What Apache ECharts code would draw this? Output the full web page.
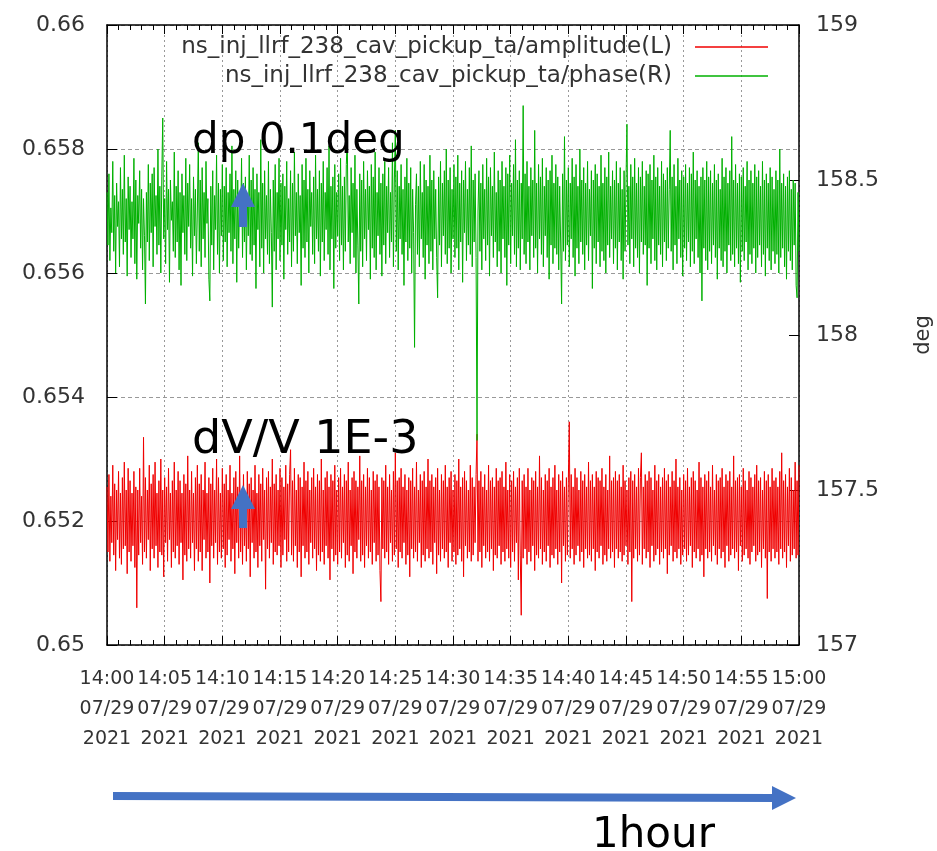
<!DOCTYPE html>
<html>
<head>
<meta charset="utf-8">
<script src="https://cdn.jsdelivr.net/npm/echarts@6/dist/echarts.min.js"></script>
<style>
  html, body { margin: 0; padding: 0; background: #fff; }
  #chart { width: 937px; height: 851px; }
</style>
</head>
<body>
<div id="chart"></div>
<script>
// 时间轴刻度 (14:00 ~ 15:00, 每5分钟)
const tickLabels = [
  '14:00\n07/29\n2021', '14:05\n07/29\n2021', '14:10\n07/29\n2021', '14:15\n07/29\n2021',
  '14:20\n07/29\n2021', '14:25\n07/29\n2021', '14:30\n07/29\n2021', '14:35\n07/29\n2021',
  '14:40\n07/29\n2021', '14:45\n07/29\n2021', '14:50\n07/29\n2021', '14:55\n07/29\n2021',
  '15:00\n07/29\n2021'
]
const seriesNames = ['ns_inj_llrf_238_cav_pickup_ta/amplitude(L)', 'ns_inj_llrf_238_cav_pickup_ta/phase(R)']
const spanSeconds = 3600 // 1小时

// amplitude (左轴), 约5秒一个点
const amplitude = [
  0.65255,0.65150,0.65275,0.65135,0.65240,0.65165,0.65290,0.65145,0.65260,0.65120,0.65250,0.65170,0.65280,0.65140,0.65245,0.65130,0.65270,0.65155,0.65295,0.65160,0.65250,0.65115,0.65285,0.65150,
  0.65265,0.65135,0.65245,0.65160,0.65280,0.65125,0.65255,0.65060,0.65250,0.65145,0.65285,0.65165,0.65240,0.65130,0.65335,0.65150,0.65270,0.65140,0.65250,0.65170,0.65290,0.65120,0.65260,0.65155,
  0.65275,0.65140,0.65295,0.65160,0.65245,0.65125,0.65265,0.65150,0.65300,0.65145,0.65250,0.65110,0.65270,0.65165,0.65255,0.65135,0.65285,0.65170,0.65245,0.65125,0.65265,0.65150,0.65295,0.65140,
  0.65250,0.65160,0.65280,0.65130,0.65265,0.65165,0.65245,0.65105,0.65275,0.65145,0.65260,0.65135,0.65305,0.65155,0.65250,0.65140,0.65280,0.65165,0.65245,0.65120,0.65270,0.65155,0.65290,0.65135,
  0.65260,0.65150,0.65275,0.65120,0.65250,0.65170,0.65295,0.65140,0.65245,0.65150,0.65270,0.65100,0.65260,0.65160,0.65285,0.65140,0.65250,0.65165,0.65300,0.65130,0.65270,0.65150,0.65245,0.65140,
  0.65285,0.65155,0.65260,0.65125,0.65275,0.65145,0.65250,0.65170,0.65290,0.65135,0.65245,0.65155,0.65270,0.65115,0.65280,0.65165,0.65255,0.65140,0.65305,0.65150,0.65250,0.65130,0.65275,0.65160,
  0.65245,0.65135,0.65280,0.65155,0.65260,0.65110,0.65270,0.65165,0.65250,0.65140,0.65290,0.65150,0.65245,0.65125,0.65275,0.65160,0.65260,0.65135,0.65285,0.65170,0.65250,0.65090,0.65270,0.65155,
  0.65280,0.65140,0.65255,0.65165,0.65300,0.65130,0.65260,0.65150,0.65275,0.65145,0.65250,0.65160,0.65285,0.65125,0.65270,0.65145,0.65255,0.65170,0.65290,0.65135,0.65260,0.65150,0.65275,0.65315,
  0.65145,0.65265,0.65135,0.65285,0.65160,0.65250,0.65125,0.65275,0.65150,0.65270,0.65110,0.65255,0.65160,0.65295,0.65140,0.65265,0.65150,0.65280,0.65130,0.65250,0.65165,0.65270,0.65140,0.65285,
  0.65155,0.65255,0.65120,0.65275,0.65145,0.65265,0.65135,0.65300,0.65150,0.65250,0.65130,0.65270,0.65160,0.65280,0.65140,0.65255,0.65105,0.65275,0.65155,0.65265,0.65135,0.65290,0.65145,0.65250,
  0.65130,0.65270,0.65150,0.65285,0.65140,0.65255,0.65165,0.65275,0.65125,0.65265,0.65145,0.65295,0.65135,0.65250,0.65160,0.65270,0.65115,0.65280,0.65150,0.65265,0.65140,0.65255,0.65170,0.65305,
  0.65135,0.65265,0.65145,0.65275,0.65125,0.65255,0.65160,0.65285,0.65140,0.65270,0.65150,0.65250,0.65130,0.65280,0.65165,0.65265,0.65135,0.65275,0.65145,0.65255,0.65120,0.65070,0.65270,0.65155,
  0.65265,0.65140,0.65290,0.65150,0.65255,0.65130,0.65275,0.65165,0.65250,0.65135,0.65280,0.65145,0.65310,0.65155,0.65265,0.65125,0.65270,0.65150,0.65285,0.65140,0.65255,0.65165,0.65275,0.65130,
  0.65250,0.65145,0.65270,0.65110,0.65265,0.65155,0.65285,0.65140,0.65255,0.65150,0.65295,0.65135,0.65250,0.65165,0.65275,0.65125,0.65265,0.65145,0.65280,0.65135,0.65255,0.65155,0.65300,0.65140,
  0.65265,0.65150,0.65275,0.65130,0.65255,0.65165,0.65270,0.65115,0.65285,0.65145,0.65250,0.65135,0.65275,0.65155,0.65265,0.65140,0.65290,0.65150,0.65255,0.65125,0.65270,0.65165,0.65280,0.65135,
  0.65250,0.65150,0.65275,0.65130,0.65265,0.65145,0.65300,0.65155,0.65255,0.65135,0.65270,0.65110,0.65280,0.65160,0.65265,0.65140,0.65250,0.65150,0.65290,0.65135,0.65270,0.65145,0.65255,0.65165,
  0.65275,0.65340,0.65135,0.65265,0.65150,0.65280,0.65125,0.65255,0.65160,0.65275,0.65140,0.65250,0.65150,0.65290,0.65135,0.65265,0.65155,0.65270,0.65120,0.65255,0.65145,0.65285,0.65140,0.65265,
  0.65160,0.65270,0.65130,0.65280,0.65150,0.65255,0.65135,0.65295,0.65155,0.65250,0.65140,0.65275,0.65125,0.65265,0.65150,0.65280,0.65135,0.65255,0.65165,0.65270,0.65105,0.65285,0.65145,0.65048,
  0.65265,0.65140,0.65275,0.65155,0.65255,0.65130,0.65285,0.65150,0.65250,0.65135,0.65270,0.65160,0.65265,0.65120,0.65280,0.65145,0.65255,0.65140,0.65305,0.65155,0.65270,0.65130,0.65250,0.65150,
  0.65275,0.65135,0.65265,0.65160,0.65285,0.65125,0.65255,0.65145,0.65270,0.65140,0.65290,0.65155,0.65250,0.65130,0.65275,0.65150,0.65265,0.65100,0.65280,0.65160,0.65255,0.65135,0.65270,0.65145,
  0.65265,0.65360,0.65140,0.65275,0.65155,0.65255,0.65130,0.65285,0.65145,0.65270,0.65160,0.65250,0.65135,0.65280,0.65150,0.65265,0.65125,0.65275,0.65155,0.65255,0.65140,0.65295,0.65145,0.65265,
  0.65135,0.65275,0.65155,0.65255,0.65120,0.65280,0.65150,0.65270,0.65140,0.65265,0.65160,0.65285,0.65130,0.65255,0.65145,0.65275,0.65135,0.65250,0.65155,0.65305,0.65140,0.65265,0.65150,0.65270,
  0.65125,0.65280,0.65155,0.65265,0.65140,0.65275,0.65150,0.65255,0.65135,0.65290,0.65145,0.65265,0.65160,0.65250,0.65130,0.65270,0.65150,0.65280,0.65070,0.65265,0.65140,0.65275,0.65155,0.65255,
  0.65135,0.65285,0.65145,0.65270,0.65310,0.65130,0.65255,0.65155,0.65275,0.65140,0.65265,0.65150,0.65280,0.65125,0.65270,0.65160,0.65250,0.65135,0.65290,0.65145,0.65265,0.65155,0.65275,0.65130,
  0.65255,0.65150,0.65270,0.65140,0.65285,0.65155,0.65265,0.65115,0.65275,0.65145,0.65255,0.65160,0.65280,0.65135,0.65265,0.65150,0.65300,0.65140,0.65255,0.65155,0.65270,0.65130,0.65250,0.65145,
  0.65275,0.65155,0.65265,0.65135,0.65285,0.65145,0.65255,0.65160,0.65270,0.65125,0.65280,0.65150,0.65265,0.65140,0.65250,0.65155,0.65295,0.65135,0.65270,0.65145,0.65255,0.65110,0.65275,0.65155,
  0.65265,0.65140,0.65280,0.65150,0.65255,0.65135,0.65290,0.65160,0.65250,0.65145,0.65275,0.65130,0.65265,0.65155,0.65270,0.65140,0.65285,0.65150,0.65255,0.65125,0.65275,0.65160,0.65265,0.65135,
  0.65280,0.65145,0.65255,0.65155,0.65305,0.65140,0.65265,0.65150,0.65270,0.65120,0.65275,0.65160,0.65255,0.65135,0.65285,0.65145,0.65265,0.65155,0.65250,0.65140,0.65280,0.65130,0.65270,0.65150,
  0.65255,0.65160,0.65275,0.65135,0.65290,0.65145,0.65265,0.65150,0.65270,0.65125,0.65250,0.65155,0.65280,0.65140,0.65265,0.65075,0.65275,0.65150,0.65255,0.65135,0.65285,0.65155,0.65265,0.65140,
  0.65270,0.65150,0.65255,0.65130,0.65280,0.65155,0.65310,0.65140,0.65265,0.65150,0.65275,0.65125,0.65255,0.65160,0.65285,0.65135,0.65270,0.65145,0.65250,0.65155,0.65295,0.65140,0.65265,0.65145,
  0.65290
]

// phase (右轴, deg)
const phase = [
  158.46,158.29,158.52,158.24,158.41,158.33,158.56,158.27,158.45,158.20,158.49,158.35,158.43,158.22,158.54,158.31,158.47,158.26,158.58,158.30,158.44,158.19,158.51,158.34,
  158.48,158.25,158.43,158.31,158.57,158.23,158.50,158.18,158.45,158.36,158.53,158.28,158.47,158.21,158.44,158.32,158.10,158.46,158.30,158.55,158.24,158.49,158.33,158.52,
  158.22,158.54,158.35,158.45,158.26,158.60,158.29,158.48,158.20,158.51,158.70,158.31,158.44,158.23,158.56,158.34,158.47,158.17,158.50,158.37,158.43,158.27,158.59,158.25,
  158.48,158.30,158.53,158.21,158.46,158.16,158.52,158.33,158.45,158.26,158.57,158.24,158.49,158.35,158.55,158.28,158.44,158.19,158.51,158.32,158.47,158.23,158.40,158.62,
  158.27,158.50,158.22,158.54,158.31,158.46,158.25,158.56,158.36,158.44,158.18,158.11,158.48,158.29,158.53,158.21,158.45,158.34,158.58,158.26,158.49,158.20,158.47,158.32,
  158.55,158.24,158.48,158.30,158.54,158.22,158.46,158.33,158.52,158.27,158.61,158.23,158.47,158.31,158.53,158.17,158.50,158.28,158.44,158.35,158.57,158.25,158.49,158.30,
  158.51,158.21,158.45,158.32,158.58,158.26,158.50,158.24,158.54,158.29,158.47,158.15,158.52,158.34,158.46,158.22,158.63,158.28,158.49,158.20,158.53,158.31,158.45,158.26,
  158.56,158.23,158.47,158.33,158.09,158.50,158.27,158.55,158.21,158.46,158.31,158.57,158.24,158.49,158.29,158.52,158.18,158.48,158.34,158.56,158.26,158.44,158.30,158.53,
  158.22,158.49,158.27,158.59,158.32,158.46,158.23,158.52,158.33,158.45,158.16,158.55,158.28,158.50,158.25,158.57,158.30,158.47,158.20,158.53,158.35,158.46,158.26,158.51,
  158.23,158.58,158.31,158.47,158.27,158.53,158.19,158.49,158.30,158.56,158.24,158.46,158.34,158.54,158.26,158.61,158.21,158.48,158.31,158.51,158.15,158.55,158.28,158.46,
  158.32,158.52,158.24,158.57,158.29,158.48,158.21,158.51,158.27,158.55,158.64,158.30,158.45,158.23,158.54,158.33,158.49,158.25,158.58,158.20,158.47,158.29,158.10,158.52,
  158.27,158.50,158.22,158.56,158.31,158.47,158.24,158.53,158.34,158.48,158.18,158.55,158.28,158.51,158.25,158.59,158.21,158.46,158.32,158.54,158.26,158.49,158.19,158.52,
  158.29,158.56,158.23,158.48,158.33,158.54,158.25,158.46,158.30,158.62,158.22,158.50,158.66,158.27,158.53,158.21,158.48,158.31,158.55,158.26,158.47,158.16,158.51,158.30,
  158.57,158.24,158.49,158.28,158.54,158.20,158.47,158.33,157.96,158.42,158.52,158.26,158.48,158.22,158.56,158.31,158.46,158.25,158.55,158.18,158.50,158.29,158.48,158.23,
  158.58,158.27,158.50,158.21,158.53,158.31,158.47,158.25,158.12,158.51,158.29,158.56,158.22,158.49,158.32,158.53,158.26,158.60,158.23,158.50,158.28,158.54,158.20,158.47,
  158.31,158.55,158.25,158.51,158.28,158.58,158.21,158.49,158.30,158.53,158.17,158.50,158.33,158.56,158.24,158.47,158.29,158.54,158.26,158.61,158.22,158.50,158.30,158.52,
  158.25,157.66,158.40,158.53,158.27,158.49,158.21,158.55,158.31,158.47,158.24,158.57,158.29,158.51,158.19,158.54,158.32,158.48,158.25,158.59,158.30,158.46,158.22,158.53,
  158.27,158.50,158.20,158.56,158.31,158.48,158.25,158.54,158.16,158.52,158.29,158.58,158.23,158.49,158.32,158.55,158.26,158.63,158.22,158.50,158.28,158.53,158.21,158.49,
  158.31,158.74,158.26,158.52,158.23,158.56,158.30,158.48,158.21,158.54,158.32,158.50,158.25,158.66,158.28,158.49,158.20,158.55,158.31,158.51,158.26,158.57,158.22,158.48,
  158.32,158.54,158.25,158.50,158.18,158.53,158.29,158.58,158.23,158.49,158.28,158.55,158.26,158.51,158.21,158.48,158.30,158.10,158.52,158.27,158.64,158.24,158.50,158.29,
  158.54,158.22,158.49,158.31,158.57,158.25,158.51,158.19,158.55,158.28,158.48,158.23,158.60,158.30,158.50,158.26,158.54,158.21,158.49,158.29,158.56,158.24,158.47,158.32,
  158.53,158.15,158.50,158.28,158.55,158.23,158.52,158.30,158.48,158.22,158.58,158.27,158.49,158.24,158.54,158.20,158.51,158.29,158.59,158.25,158.48,158.31,158.53,158.23,
  158.50,158.28,158.56,158.21,158.49,158.30,158.54,158.24,158.47,158.18,158.53,158.27,158.50,158.68,158.29,158.48,158.23,158.55,158.31,158.51,158.22,158.57,158.28,158.49,
  158.25,158.54,158.20,158.51,158.30,158.56,158.26,158.48,158.29,158.53,158.16,158.52,158.28,158.55,158.23,158.50,158.31,158.58,158.24,158.51,158.21,158.54,158.29,158.48,
  158.26,158.56,158.22,158.52,158.30,158.50,158.24,158.54,158.28,158.47,158.66,158.27,158.51,158.21,158.55,158.29,158.48,158.23,158.57,158.31,158.50,158.25,158.53,158.19,
  158.51,158.28,158.55,158.24,158.49,158.30,158.54,158.22,158.52,158.27,158.59,158.23,158.50,158.31,158.53,158.25,158.48,158.20,158.51,158.11,158.54,158.28,158.50,158.24,
  158.56,158.21,158.51,158.27,158.53,158.23,158.49,158.29,158.55,158.25,158.50,158.18,158.52,158.28,158.47,158.24,158.57,158.22,158.51,158.27,158.54,158.20,158.49,158.29,
  158.53,158.24,158.64,158.26,158.50,158.22,158.55,158.28,158.49,158.23,158.52,158.17,158.51,158.27,158.54,158.24,158.48,158.30,158.56,158.21,158.50,158.26,158.53,158.23,
  158.49,158.28,158.55,158.20,158.51,158.25,158.53,158.29,158.48,158.22,158.56,158.26,158.50,158.19,158.52,158.28,158.49,158.24,158.54,158.21,158.51,158.27,158.47,158.23,
  158.53,158.26,158.50,158.20,158.60,158.25,158.49,158.28,158.52,158.22,158.48,158.18,158.51,158.27,158.53,158.24,158.47,158.21,158.50,158.29,158.49,158.16,158.12,158.46,
  158.27
]

// 采样点均匀分布在1小时内
let toPairs = arr => arr.map((v, i) => [i * spanSeconds / (arr.length - 1), v])

let axisFont = 'DejaVu Sans'
let blue = '#4472c4'

let option = {
  animation: false,
  backgroundColor: '#fff',
  grid: { left: 107, right: 138, top: 25, bottom: 206, outerBoundsMode: 'none' },
  legend: {
    orient: 'vertical',
    right: 164,
    top: 30,
    align: 'right',
    icon: 'rect',
    itemWidth: 73,
    itemHeight: 1.5,
    itemGap: 5,
    textStyle: { fontFamily: axisFont, fontSize: 23, color: '#333', padding: [0, 18, 0, 0], lineHeight: 24 },
    data: seriesNames
  },
  xAxis: [{
    type: 'value',
    min: 0,
    max: spanSeconds,
    interval: 300,
    axisLine: { onZero: false, lineStyle: { color: '#000', width: 1.5 } },
    axisTick: { inside: true, length: 9, lineStyle: { color: '#000' } },
    minorTick: { show: true, splitNumber: 5, length: 5, lineStyle: { color: '#000' } },
    splitLine: { show: true, lineStyle: { color: '#999', type: [2, 3], width: 1 } },
    axisLabel: {
      showMinLabel: true,
      showMaxLabel: true,
      hideOverlap: false,
      margin: 19,
      fontFamily: axisFont,
      fontSize: 19,
      lineHeight: 30,
      color: '#333',
      formatter: v => tickLabels[Math.round(v / 300)]
    }
  }, {
    // 上边框刻度
    type: 'value',
    position: 'top',
    min: 0,
    max: spanSeconds,
    interval: 300,
    axisLine: { show: true, onZero: false, lineStyle: { color: '#000', width: 1.5 } },
    axisTick: { inside: true, length: 9, lineStyle: { color: '#000' } },
    minorTick: { show: true, splitNumber: 5, length: 5, lineStyle: { color: '#000' } },
    splitLine: { show: false },
    axisLabel: { show: false }
  }],
  yAxis: [{
    type: 'value',
    position: 'left',
    min: 0.65,
    max: 0.66,
    interval: 0.002,
    axisLine: { show: true, onZero: false, lineStyle: { color: '#000', width: 1.5 } },
    axisTick: { show: true, inside: true, length: 10, lineStyle: { color: '#000' } },
    splitLine: { show: true, lineStyle: { color: '#999', type: [4, 3], width: 1 } },
    axisLabel: { margin: 22, fontFamily: axisFont, fontSize: 22, color: '#333' }
  }, {
    type: 'value',
    position: 'right',
    min: 157,
    max: 159,
    interval: 0.5,
    name: 'deg',
    nameLocation: 'middle',
    nameRotate: 90,
    nameGap: 114,
    nameTextStyle: { fontFamily: axisFont, fontSize: 21, color: '#333' },
    axisLine: { show: true, onZero: false, lineStyle: { color: '#000', width: 1.5 } },
    axisTick: { show: true, inside: true, length: 10, lineStyle: { color: '#000' } },
    splitLine: { show: false },
    axisLabel: { margin: 17, fontFamily: axisFont, fontSize: 22, color: '#333' }
  }],
  series: [{
    name: seriesNames[0],
    type: 'line',
    xAxisIndex: 0,
    yAxisIndex: 0,
    showSymbol: false,
    sampling: 'none',
    color: '#f00000',
    lineStyle: { width: 1 },
    data: toPairs(amplitude)
  }, {
    name: seriesNames[1],
    type: 'line',
    xAxisIndex: 0,
    yAxisIndex: 1,
    showSymbol: false,
    sampling: 'none',
    color: '#00b000',
    lineStyle: { width: 1 },
    data: toPairs(phase)
  }],
  // 标注文字和箭头
  graphic: [
    { type: 'text', left: 192, top: 121, z: 100,
      style: { text: 'dp 0.1deg', font: '42px "DejaVu Sans"', fill: '#000' } },
    { type: 'text', left: 192, top: 418, z: 100,
      style: { text: 'dV/V 1E-3', font: '46px "DejaVu Sans"', fill: '#000' } },
    { type: 'polygon', z: 100,
      shape: { points: [[243, 183], [255, 207], [247, 207], [247, 227], [239, 227], [239, 207], [231, 207]] },
      style: { fill: blue } },
    { type: 'polygon', z: 100,
      shape: { points: [[243, 485], [255, 509], [247, 509], [247, 528], [239, 528], [239, 509], [231, 509]] },
      style: { fill: blue } },
    { type: 'polygon', z: 100,
      shape: { points: [[113, 792], [772, 794], [772, 786], [796, 798], [772, 810], [772, 802], [113, 800]] },
      style: { fill: blue } },
    { type: 'text', left: 592, top: 815, z: 100,
      style: { text: '1hour', font: '42px "DejaVu Sans"', fill: '#000' } }
  ]
}

echarts.init(document.getElementById('chart')).setOption(option)
</script>
</body>
</html>
